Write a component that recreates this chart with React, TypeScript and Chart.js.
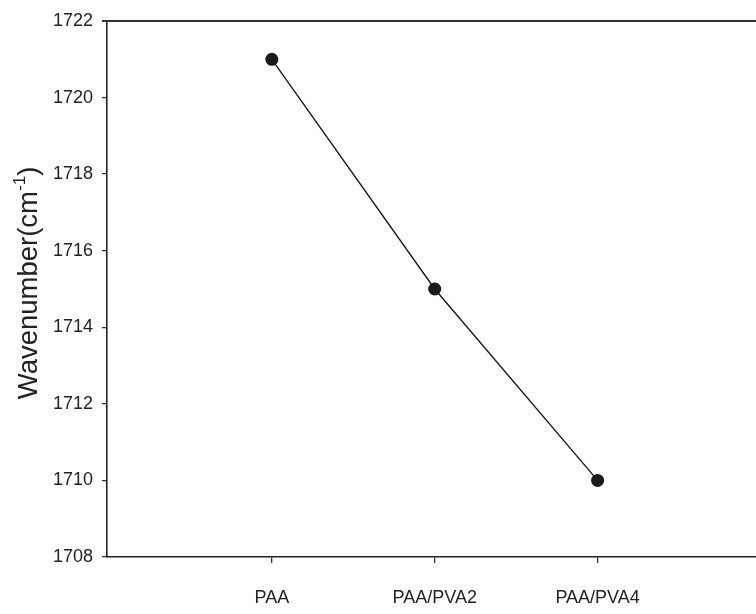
import React, { useEffect, useRef } from "react";
import { Chart, registerables } from "chart.js";

Chart.register(...registerables);

const categories = ["PAA", "PAA/PVA2", "PAA/PVA4"];
const wavenumbers = [1721, 1715, 1710];
const yTicks = [1708, 1710, 1712, 1714, 1716, 1718, 1720, 1722];
const yTitle = "Wavenumber(cm";
const yTitleSup = "-1";
const yTitleEnd = ")";

const FONT = "'Liberation Sans', Arial, sans-serif";

const frame = {
  id: "frame",
  afterDraw(chart: any) {
    const { ctx, chartArea } = chart;
    ctx.save();
    // top border
    ctx.strokeStyle = "#333";
    ctx.lineWidth = 2;
    ctx.beginPath();
    ctx.moveTo(chartArea.left - 5, chartArea.top);
    ctx.lineTo(chartArea.right, chartArea.top);
    ctx.stroke();
    // y title with superscript
    const size = 27.5;
    const supSize = 17;
    ctx.fillStyle = "#222";
    ctx.translate(29, (chartArea.top + chartArea.bottom) / 2 - 6);
    ctx.rotate(-Math.PI / 2);
    ctx.textBaseline = "middle";
    ctx.font = `${size}px ${FONT}`;
    const w1 = ctx.measureText(yTitle).width;
    const w3 = ctx.measureText(yTitleEnd).width;
    ctx.font = `${supSize}px ${FONT}`;
    const w2 = ctx.measureText(yTitleSup).width;
    const total = w1 + w2 + w3;
    let x = -total / 2;
    ctx.textAlign = "left";
    ctx.font = `${size}px ${FONT}`;
    ctx.fillText(yTitle, x, 0);
    x += w1;
    ctx.font = `${supSize}px ${FONT}`;
    ctx.fillText(yTitleSup, x, -9);
    x += w2;
    ctx.font = `${size}px ${FONT}`;
    ctx.fillText(yTitleEnd, x, 0);
    ctx.restore();
  },
};

export default function App() {
  const ref = useRef<HTMLCanvasElement>(null);
  useEffect(() => {
    if (!ref.current) return;
    const chart = new Chart(ref.current, {
      type: "line",
      data: {
        datasets: [
          {
            data: categories.map((c, i) => ({ x: i, y: wavenumbers[i] })),
            borderColor: "#111",
            borderWidth: 1.3,
            backgroundColor: "#111",
            pointBackgroundColor: "#1a1a1a",
            pointBorderColor: "#1a1a1a",
            pointRadius: 6.5,
            pointBorderWidth: 0,
            tension: 0,
          },
        ],
      },
      options: {
        animation: false,
        responsive: false,
        layout: { padding: { top: 21, right: 0, left: 0, bottom: 0 } },
        plugins: { legend: { display: false }, tooltip: { enabled: false } },
        scales: {
          x: {
            type: "linear",
            min: -1.012,
            max: 3.08,
            afterBuildTicks: (s: any) => {
              s.ticks = categories.map((_, i) => ({ value: i }));
            },
            afterFit: (s: any) => {
              s.height = 57;
            },
            grid: {
              drawOnChartArea: false,
              drawTicks: true,
              tickLength: 6,
              color: "#333",
              lineWidth: 1.3,
            },
            border: { color: "#222", width: 1.6 },
            ticks: {
              autoSkip: false,
              maxRotation: 0,
              padding: 24,
              color: "#222",
              font: { family: FONT, size: 18 },
              callback: (v: any) => categories[v as number] ?? "",
            },
          },
          y: {
            min: 1708,
            max: 1722,
            afterBuildTicks: (s: any) => {
              s.ticks = yTicks.map((v) => ({ value: v }));
            },
            afterFit: (s: any) => {
              s.width = 107;
            },
            grid: {
              drawOnChartArea: false,
              drawTicks: true,
              tickLength: 5,
              color: "#333",
              lineWidth: 1.3,
            },
            border: { color: "#222", width: 1.6 },
            ticks: {
              padding: 9,
              color: "#222",
              font: { family: FONT, size: 18 },
              callback: (v: any) => String(v),
            },
          },
        },
      },
      plugins: [frame],
    });
    return () => chart.destroy();
  }, []);
  return (
    <div style={{ position: "absolute", left: 0, top: 0, width: 756, height: 614, overflow: "hidden", background: "#fff" }}>
      <canvas ref={ref} width={780} height={614} style={{ display: "block" }} />
    </div>
  );
}
